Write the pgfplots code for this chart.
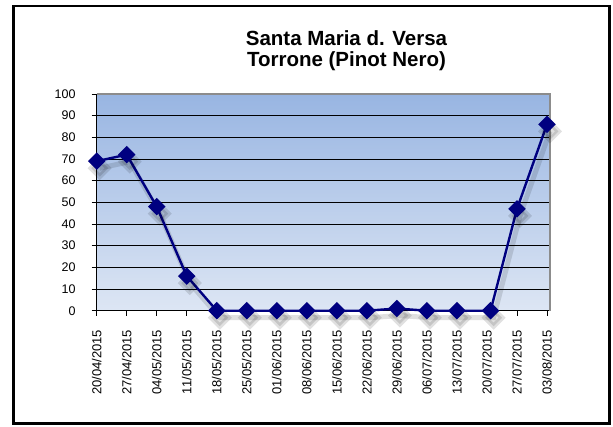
\documentclass[border=0pt]{standalone}
\usepackage{fontspec}
\setmainfont{Liberation Sans}
\usepackage{pgfplots}
\pgfplotsset{compat=1.18}

\definecolor{serie}{RGB}{0,0,128}
\definecolor{bgtop}{RGB}{152,181,226}
\definecolor{bgbottom}{RGB}{221,230,244}

\begin{document}
\begin{tikzpicture}
\useasboundingbox (-96.7pt,-115.3pt) rectangle (516.3pt,310.7pt);
% outer frame
\draw[black, line width=2.2pt] (-83.2pt,-112.8pt) rectangle (512.8pt,304.7pt);
\begin{axis}[
    at={(0pt,0pt)}, anchor=south west,
    width=453.3pt, height=216.7pt, scale only axis,
    xmin=0, xmax=15.1, ymin=0, ymax=100,
    axis x line*=bottom, axis y line*=left,
    axis line style={black, line width=0.8pt},
    axis background/.style={top color=bgtop, bottom color=bgbottom},
    ytick={0,10,...,100},
    xtick={0,...,15},
    xticklabels={20/04/2015,27/04/2015,04/05/2015,11/05/2015,18/05/2015,25/05/2015,
      01/06/2015,08/06/2015,15/06/2015,22/06/2015,29/06/2015,06/07/2015,
      13/07/2015,20/07/2015,27/07/2015,03/08/2015},
    ymajorgrids,
    major grid style={black, line width=0.8pt},
    tick align=outside, major tick length=5pt,
    tick style={black, line width=0.8pt},
    /pgf/number format/assume math mode=true,
    x tick label style={rotate=90, anchor=east, inner sep=0pt,
      font=\fontsize{13}{15}\selectfont},
    y tick label style={inner sep=0pt, font=\fontsize{12.5}{14}\selectfont},
    xticklabel shift=14pt,
    yticklabel shift=16pt,
    clip=false,
]
% grey frame on top and right of the plot area
\draw[gray!90, line width=2pt] (rel axis cs:0,1) -- (rel axis cs:1,1) -- (rel axis cs:1,0);
% soft shadow
\addplot[black, opacity=0.12, line width=5pt, mark=square*, mark size=6pt,
  mark options={rotate=45, solid, fill=black}, shift={(3pt,-7pt)}] coordinates {
  (0,69) (1,72) (2,48) (3,16) (4,0) (5,0) (6,0) (7,0) (8,0) (9,0)
  (10,1) (11,0) (12,0) (13.12,0) (14,47) (15,86)
};
\addplot[serie, line width=2.4pt, mark=square*, mark size=5pt,
  mark options={rotate=45, solid, fill=serie}] coordinates {
  (0,69) (1,72) (2,48) (3,16) (4,0) (5,0) (6,0) (7,0) (8,0) (9,0)
  (10,1) (11,0) (12,0) (13.12,0) (14,47) (15,86)
};
\end{axis}
\node[anchor=base, font=\bfseries\fontsize{20.5}{22}\selectfont] at (249.8pt,264.7pt) {Santa Maria d. Versa};
\node[anchor=base, font=\bfseries\fontsize{20.5}{22}\selectfont] at (249.8pt,244.2pt) {Torrone (Pinot Nero)};
\end{tikzpicture}
\end{document}
